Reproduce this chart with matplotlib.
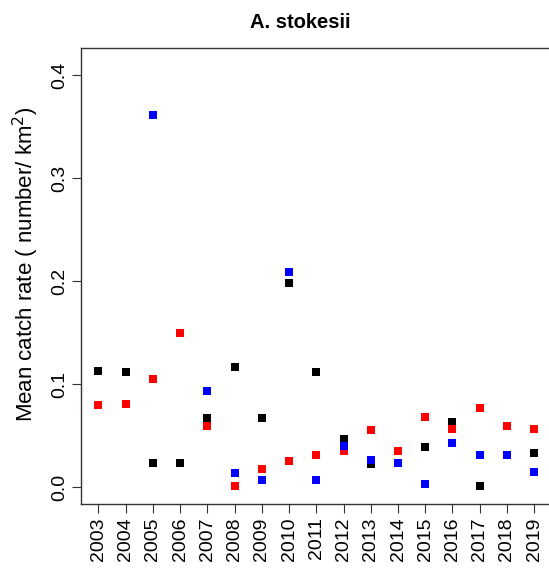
import numpy as np
import matplotlib.pyplot as plt

plt.rcParams['font.family'] = ['Liberation Sans', 'DejaVu Sans']

years = np.arange(2003, 2020)
nan = np.nan

# catch rates, three series (black / red / blue)
black = [0.113, 0.112, 0.023, 0.023, 0.067, 0.117, 0.067, 0.198, 0.112,
         0.047, 0.022, nan, 0.039, 0.063, 0.001, nan, 0.033]
red = [0.080, 0.081, 0.105, 0.150, 0.059, 0.001, 0.018, 0.025, 0.031,
       0.035, 0.055, 0.035, 0.068, 0.056, 0.077, 0.059, 0.056]
blue = [nan, nan, 0.361, nan, 0.093, 0.014, 0.007, 0.209, 0.007,
        0.040, 0.026, 0.023, 0.003, 0.043, 0.031, 0.031, 0.015]

fig = plt.figure(figsize=(5.49, 5.72), dpi=100)
ax = fig.add_axes([81 / 549, 68 / 572, 470.6 / 549, 456 / 572])

ms = 5.6
ax.plot(years, black, 's', color='black', markersize=ms, markeredgewidth=0)
ax.plot(years, red, 's', color='#ff0000', markersize=ms, markeredgewidth=0)
ax.plot(years, blue, 's', color='#0000ff', markersize=ms, markeredgewidth=0)

ax.set_xlim(2002.36, 2019.64)
ax.set_ylim(-0.0164, 0.4264)
ax.set_xticks(years)
ax.set_xticklabels([str(y) for y in years], rotation=90, fontsize=14)
ax.set_yticks([0.0, 0.1, 0.2, 0.3, 0.4])
ax.set_yticklabels(['0.0', '0.1', '0.2', '0.3', '0.4'], rotation=90,
                   va='center', fontsize=14)
ax.tick_params(axis='both', length=6.5, width=0.8, color='#333333', pad=3)

for s in ax.spines.values():
    s.set_linewidth(1.0)
    s.set_color('#333333')

ax.set_ylabel('Mean catch rate ( number/ km$^2$)', fontsize=16)
ax.yaxis.set_label_coords(-0.084, 0.525)
fig.text(300 / 549, 1 - 22 / 572, 'A. stokesii', ha='center', va='center',
         fontsize=14.5, fontweight='bold')

fig.savefig('out.png', dpi=100)
